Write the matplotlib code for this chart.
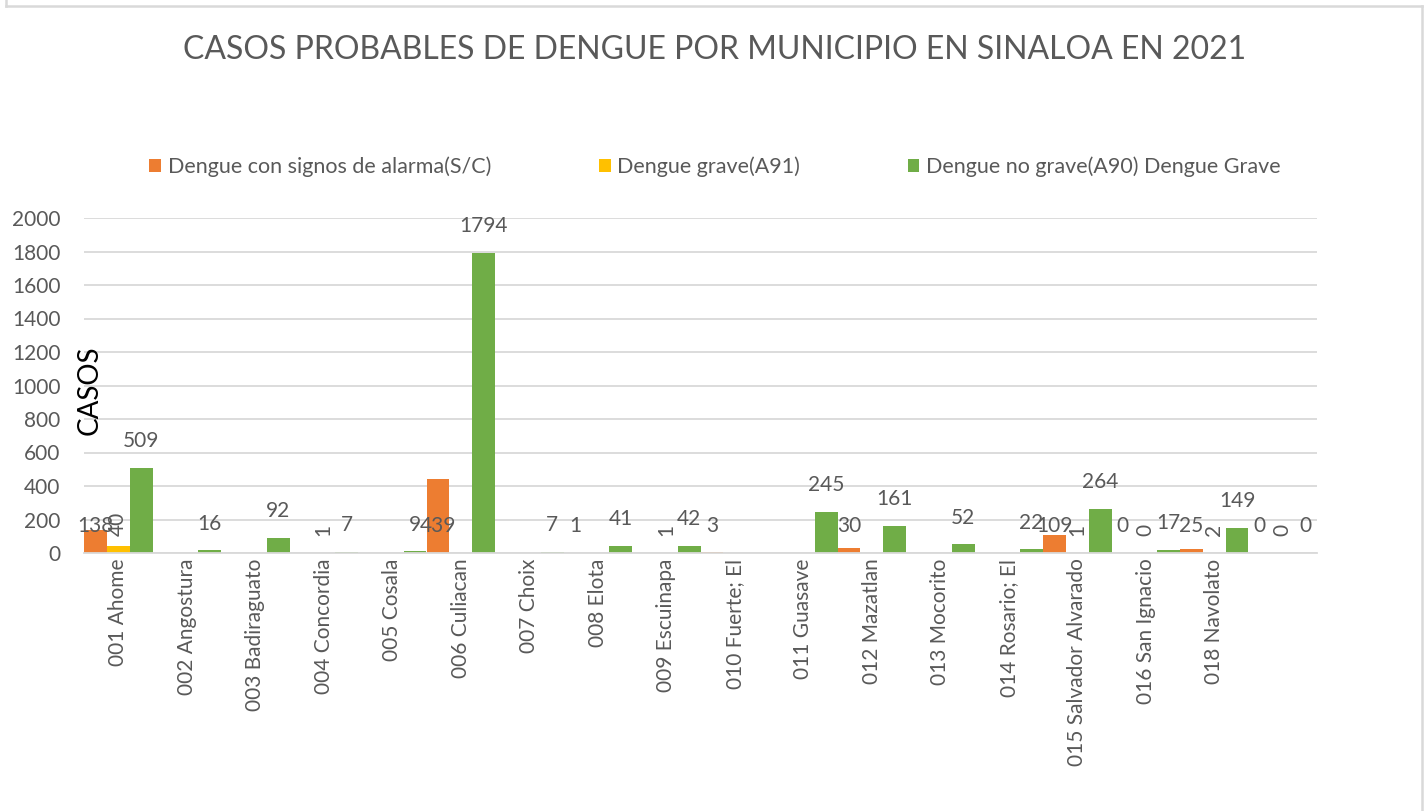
import numpy as np
import matplotlib
matplotlib.use('Agg')
import matplotlib.pyplot as plt
from matplotlib.lines import Line2D

plt.rcParams['font.family'] = ['Lato', 'DejaVu Sans']

# --------------------------------------------------
# data
# --------------------------------------------------
municipios = ["001 Ahome", "002 Angostura", "003 Badiraguato", "004 Concordia",
              "005 Cosala", "006 Culiacan", "007 Choix", "008 Elota",
              "009 Escuinapa", "010 Fuerte; El", "011 Guasave", "012 Mazatlan",
              "013 Mocorito", "014 Rosario; El", "015 Salvador Alvarado",
              "016 San Ignacio", "018 Navolato", ""]
nan = np.nan
con_alarma = [138, nan, nan, nan, nan, 439, nan, 1, nan, 3,
              nan, 30, nan, nan, 109, 0, 25, 0]
grave = [40, nan, nan, 1, nan, nan, nan, nan, 1, nan,
         nan, nan, nan, nan, 1, 0, 2, 0]
no_grave = [509, 16, 92, 7, 9, 1794, 7, 41, 42, nan,
            245, 161, 52, 22, 264, 17, 149, 0]

# name, values, colour, label rotation, label sits on the bar top (else at base)
series = [("Dengue con signos de alarma(S/C)", con_alarma, '#ED7D31', 0, False),
          ("Dengue grave(A91)", grave, '#FFC000', 90, False),
          ("Dengue no grave(A90) Dengue Grave", no_grave, '#70AD47', 0, True)]

gray = '#595959'
grid = '#D9D9D9'

# --------------------------------------------------
# plot
# --------------------------------------------------
W, H = 1428, 811
fig = plt.figure(figsize=(W/100, H/100), dpi=100)
ax = fig.add_axes([84/W, 1-553/H, (1317-84)/W, (553-218)/H])

x = np.arange(len(municipios))
bw = 1/3
for k, (name, vals, col, rot, on_top) in enumerate(series):
    vals = np.array(vals, dtype=float)
    xs = x + (k-1)*bw
    ax.bar(xs, np.nan_to_num(vals), width=bw, color=col, label=name,
           edgecolor='none')
    for xi, v in zip(xs, vals):
        if np.isnan(v):
            continue
        ax.annotate(f"{int(v)}", (xi, v if on_top else 0), xytext=(0, 12),
                    textcoords='offset points', ha='center', va='bottom',
                    rotation=rot, fontsize=15, color=gray)

ax.set_xlim(-0.5, len(municipios)-0.5)
ax.set_ylim(0, 2000)
ax.set_yticks(np.arange(0, 2001, 200))
ax.set_xticks(x)
ax.set_xticklabels(municipios, rotation=90, fontsize=15, color=gray)
ax.tick_params(axis='y', labelsize=15, labelcolor=gray, length=0, pad=17)
ax.tick_params(axis='x', length=0, pad=4)
ax.grid(axis='y', color=grid, linewidth=1.3)
ax.set_axisbelow(True)
for s in ['left', 'right', 'top']:
    ax.spines[s].set_visible(False)
ax.spines['bottom'].set_color(grid)
ax.spines['bottom'].set_linewidth(1.3)

fig.text(90/W, 1-390/H, "CASOS", rotation=90, ha='center', va='center',
         fontsize=20, color='black')
fig.text(715/W, 1-50/H, "CASOS PROBABLES DE DENGUE POR MUNICIPIO EN SINALOA EN 2021",
         ha='center', va='center', fontsize=23, color=gray)

fig.legend(loc='center', bbox_to_anchor=(715/W, 1-167/H), ncol=3, frameon=False,
           fontsize=15.5, labelcolor=gray, handlelength=0.55, handleheight=0.55,
           handletextpad=0.3, columnspacing=5.0)

# outer chart border
for xs_, ys_ in [([6, 6], [0, 6]), ([6, 1422], [6, 6]), ([1422, 1422], [6, H])]:
    fig.add_artist(Line2D([v/W for v in xs_], [1-v/H for v in ys_],
                          color=grid, linewidth=1.8, transform=fig.transFigure))

fig.savefig("out.png", dpi=100)
